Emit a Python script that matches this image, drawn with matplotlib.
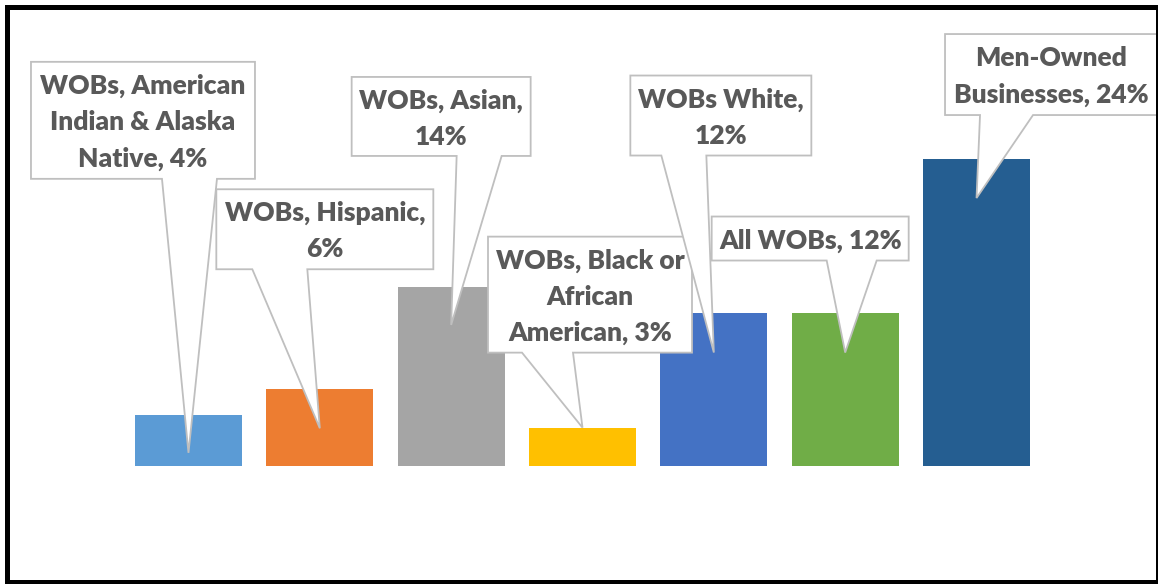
import matplotlib.pyplot as plt
import matplotlib.transforms as mtransforms
from matplotlib.patches import Polygon, Rectangle

# share of firms (%), by owner group
values = [4, 6, 14, 3, 12, 12, 24]
labels = ['WOBs, American\nIndian & Alaska\nNative, 4%', 'WOBs, Hispanic,\n6%', 'WOBs, Asian,\n14%',
          'WOBs, Black or\nAfrican\nAmerican, 3%', 'WOBs White,\n12%', 'All WOBs, 12%',
          'Men-Owned\nBusinesses, 24%']
colors = ['#5B9BD5', '#ED7D31', '#A5A5A5', '#FFC000', '#4472C4', '#70AD47', '#255E91']

# callout geometry in pixels relative to the top centre of each bar (y down):
# box left, right, top, bottom, pointer base x0, x1, tip depth
callouts = [
    (-157.5, 66.5, -353, -236, -26.5, 28.5, 38),
    (-103.5, 113.5, -200, -120, -67.5, -12.5, 39),
    (-99.5, 79.5, -210, -131, 5.5, 50.5, 38),
    (-94.5, 109.5, -191, -75, -60.5, -9.5, 0),
    (-83.5, 97.5, -237, -157, -52.5, -7.5, 40),
    (-133.5, 63.5, -96, -52, -18.5, 31.5, 40),
    (-31.5, 181.5, -125, -44, 3.5, 56.5, 39),
]

W, H = 1158, 584
fig = plt.figure(figsize=(W / 100, H / 100), dpi=100)
ax_left, ax_right = 122.8, 1042.2
ax_bottom, ax_top = 466, 466 - 30 * 12.79
ax = fig.add_axes([ax_left / W, (H - ax_bottom) / H,
                   (ax_right - ax_left) / W, (ax_bottom - ax_top) / H])
x = list(range(len(values)))
ax.bar(x, values, width=0.815, color=colors)
ax.set_xlim(-0.5, len(values) - 0.5)
ax.set_ylim(0, 30)
ax.axis('off')

for i, (v, lab, c) in enumerate(zip(values, labels, callouts)):
    l, r, t, b, bx0, bx1, tip = c
    trans = fig.dpi_scale_trans + mtransforms.ScaledTranslation(i, v, ax.transData)
    pts = [(l, t), (r, t), (r, b), (bx1, b), (0, tip), (bx0, b), (l, b)]
    pts = [(px / 100, -py / 100) for px, py in pts]
    poly = Polygon(pts, closed=True, transform=trans, facecolor='white',
                   edgecolor='#BFBFBF', linewidth=1.3, zorder=3, clip_on=False)
    fig.add_artist(poly)
    fig.text((l + r) / 200, -((t + b) / 2 + 2) / 100, lab, transform=trans,
             ha='center', va='center', fontsize=19, fontweight='heavy', family='Lato',
             color='#595959', linespacing=1.6, zorder=4)

# outer frame
fig.add_artist(Rectangle((7.5 / W, 2.5 / H), (1157.5 - 7.5) / W, (577.5 - 2.5) / H,
                         transform=fig.transFigure, fill=False, edgecolor='black',
                         linewidth=3.6, zorder=5))

fig.savefig('out.png', dpi=100)
